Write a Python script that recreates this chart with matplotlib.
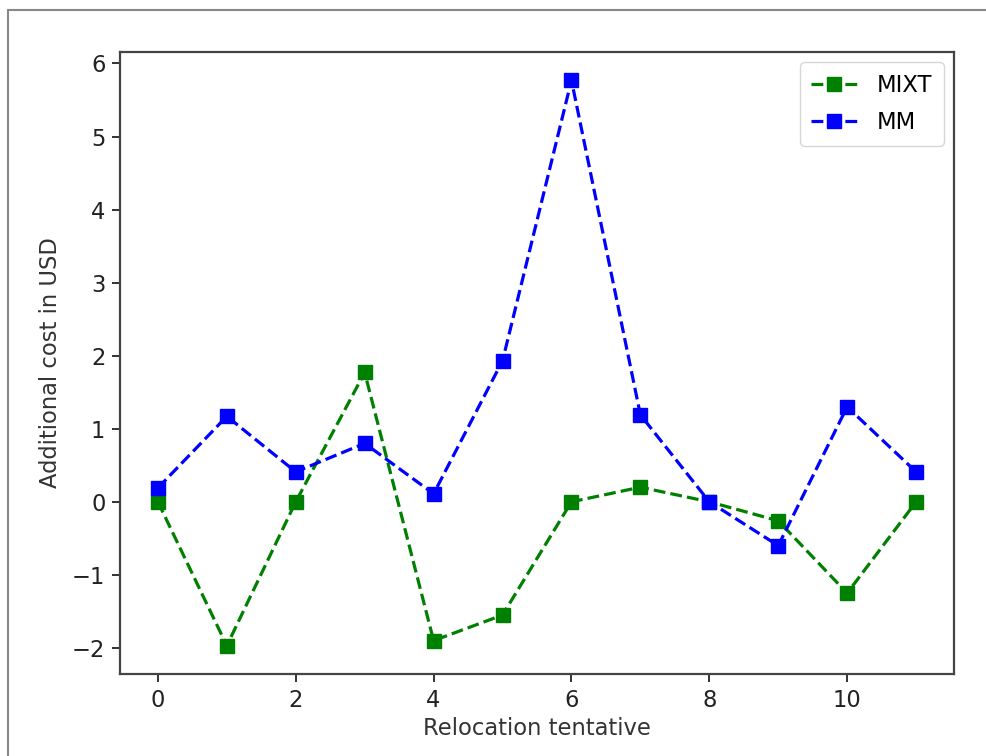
import matplotlib
matplotlib.use("Agg")
import matplotlib.pyplot as plt
from matplotlib.patches import Rectangle

x = list(range(12))
mixt = [0.0, -1.97, 0.0, 1.77, -1.90, -1.55, 0.0, 0.20, 0.0, -0.26, -1.25, 0.0]
mm = [0.19, 1.17, 0.41, 0.80, 0.11, 1.93, 5.77, 1.19, 0.0, -0.60, 1.30, 0.41]

W, H = 987, 756
FS = 16.3
fig = plt.figure(figsize=(W / 100, H / 100), dpi=100)
ax = fig.add_axes([120 / W, 1 - 674 / H, (954 - 120) / W, (674 - 52) / H])

ax.plot(x, mixt, linestyle="--", color="green", marker="s", markersize=10, linewidth=2.3,
        dashes=(3.7, 1.6), label="MIXT")
ax.plot(x, mm, linestyle="--", color="blue", marker="s", markersize=10, linewidth=2.3,
        dashes=(3.7, 1.6), label="MM")

ax.set_xticks([0, 2, 4, 6, 8, 10])
ax.set_yticks(range(-2, 7))
ax.tick_params(labelsize=FS, width=1.3, length=5.5, colors="#222222", pad=5)
for s in ax.spines.values():
    s.set_linewidth(1.6)
    s.set_color("#444444")
ax.set_xlabel("Relocation tentative", fontsize=FS, color="#333333", labelpad=4)
ax.set_ylabel("Additional cost in USD", fontsize=FS, color="#333333", labelpad=7)
ax.legend(loc="upper right", fontsize=FS, handlelength=2.0, handletextpad=0.9,
          borderpad=0.5, labelspacing=0.65, borderaxespad=0.45)

fig.patches.append(Rectangle((8 / W, -0.1), 1.2, 1 - 10 / H + 0.1, transform=fig.transFigure,
                             fill=False, edgecolor="#888888", linewidth=1.5))

fig.savefig("out.png", dpi=100)
